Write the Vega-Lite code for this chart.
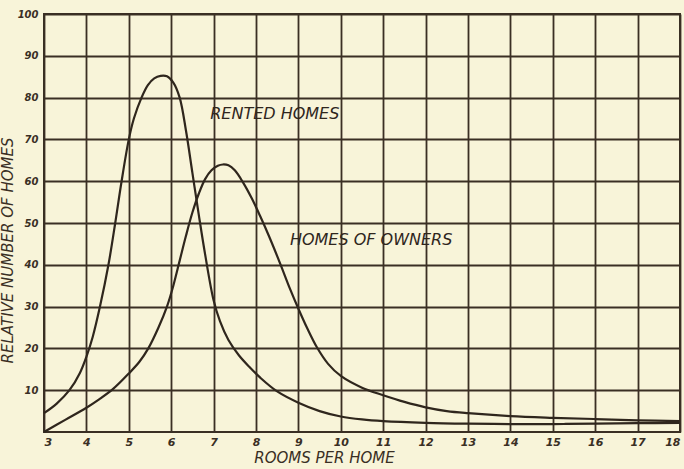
{
  "$schema": "https://vega.github.io/schema/vega-lite/v6.json",
  "width": 636,
  "height": 418,
  "autosize": "none",
  "padding": {"left": 44, "top": 14, "right": 4, "bottom": 37},
  "background": "#f8f4d9",
  "config": {
    "view": {"stroke": "#3a2f24", "strokeWidth": 2},
    "axis": {
      "gridColor": "#3a2f24",
      "gridWidth": 1.8,
      "gridOpacity": 1,
      "domain": false,
      "ticks": false,
      "labelFont": "DejaVu Sans",
      "labelFontStyle": "italic",
      "labelFontWeight": "bold",
      "labelColor": "#3a2f24",
      "labelFontSize": 11,
      "titleFont": "DejaVu Sans",
      "titleFontStyle": "italic",
      "titleFontWeight": "normal",
      "titleColor": "#3a2f24",
      "titleFontSize": 15
    }
  },
  "layer": [
    {
      "data": {
        "values": [
          {"series": "Rented Homes", "rooms": 3, "value": 4.5},
          {"series": "Rented Homes", "rooms": 3.3, "value": 6.8},
          {"series": "Rented Homes", "rooms": 3.6, "value": 10},
          {"series": "Rented Homes", "rooms": 3.85, "value": 14.2},
          {"series": "Rented Homes", "rooms": 4.0, "value": 18},
          {"series": "Rented Homes", "rooms": 4.15, "value": 22.8},
          {"series": "Rented Homes", "rooms": 4.32, "value": 30},
          {"series": "Rented Homes", "rooms": 4.52, "value": 40},
          {"series": "Rented Homes", "rooms": 4.68, "value": 50},
          {"series": "Rented Homes", "rooms": 4.83, "value": 60},
          {"series": "Rented Homes", "rooms": 5.0, "value": 70},
          {"series": "Rented Homes", "rooms": 5.12, "value": 75},
          {"series": "Rented Homes", "rooms": 5.3, "value": 80},
          {"series": "Rented Homes", "rooms": 5.45, "value": 83},
          {"series": "Rented Homes", "rooms": 5.6, "value": 84.6},
          {"series": "Rented Homes", "rooms": 5.75, "value": 85.2},
          {"series": "Rented Homes", "rooms": 5.9, "value": 85.1},
          {"series": "Rented Homes", "rooms": 6.05, "value": 83.6},
          {"series": "Rented Homes", "rooms": 6.2, "value": 80},
          {"series": "Rented Homes", "rooms": 6.35, "value": 72},
          {"series": "Rented Homes", "rooms": 6.5, "value": 62},
          {"series": "Rented Homes", "rooms": 6.65, "value": 52},
          {"series": "Rented Homes", "rooms": 6.8, "value": 42.5},
          {"series": "Rented Homes", "rooms": 7.0, "value": 31.5},
          {"series": "Rented Homes", "rooms": 7.15, "value": 26.5},
          {"series": "Rented Homes", "rooms": 7.35, "value": 22},
          {"series": "Rented Homes", "rooms": 7.6, "value": 18.3},
          {"series": "Rented Homes", "rooms": 7.86, "value": 15.4},
          {"series": "Rented Homes", "rooms": 8.1, "value": 13},
          {"series": "Rented Homes", "rooms": 8.5, "value": 9.7},
          {"series": "Rented Homes", "rooms": 9, "value": 7},
          {"series": "Rented Homes", "rooms": 9.5, "value": 5},
          {"series": "Rented Homes", "rooms": 10, "value": 3.7},
          {"series": "Rented Homes", "rooms": 10.5, "value": 3.0},
          {"series": "Rented Homes", "rooms": 11, "value": 2.6},
          {"series": "Rented Homes", "rooms": 12, "value": 2.2},
          {"series": "Rented Homes", "rooms": 13, "value": 2.0},
          {"series": "Rented Homes", "rooms": 14, "value": 1.9},
          {"series": "Rented Homes", "rooms": 15, "value": 1.9},
          {"series": "Rented Homes", "rooms": 16, "value": 2.0},
          {"series": "Rented Homes", "rooms": 17, "value": 2.1},
          {"series": "Rented Homes", "rooms": 18, "value": 2.2},
          {"series": "Homes of Owners", "rooms": 3, "value": 0},
          {"series": "Homes of Owners", "rooms": 3.5, "value": 2.9},
          {"series": "Homes of Owners", "rooms": 4, "value": 5.8},
          {"series": "Homes of Owners", "rooms": 4.3, "value": 7.8},
          {"series": "Homes of Owners", "rooms": 4.63, "value": 10.3},
          {"series": "Homes of Owners", "rooms": 5, "value": 14},
          {"series": "Homes of Owners", "rooms": 5.25, "value": 16.8},
          {"series": "Homes of Owners", "rooms": 5.46, "value": 20},
          {"series": "Homes of Owners", "rooms": 5.7, "value": 25},
          {"series": "Homes of Owners", "rooms": 5.9, "value": 30},
          {"series": "Homes of Owners", "rooms": 6.05, "value": 35},
          {"series": "Homes of Owners", "rooms": 6.2, "value": 41},
          {"series": "Homes of Owners", "rooms": 6.35, "value": 47},
          {"series": "Homes of Owners", "rooms": 6.5, "value": 52.5},
          {"series": "Homes of Owners", "rooms": 6.65, "value": 57},
          {"series": "Homes of Owners", "rooms": 6.8, "value": 60.5},
          {"series": "Homes of Owners", "rooms": 6.95, "value": 62.6},
          {"series": "Homes of Owners", "rooms": 7.1, "value": 63.7},
          {"series": "Homes of Owners", "rooms": 7.22, "value": 64},
          {"series": "Homes of Owners", "rooms": 7.35, "value": 63.8},
          {"series": "Homes of Owners", "rooms": 7.5, "value": 62.6},
          {"series": "Homes of Owners", "rooms": 7.7, "value": 59.6},
          {"series": "Homes of Owners", "rooms": 7.9, "value": 55.9},
          {"series": "Homes of Owners", "rooms": 8.1, "value": 51.6},
          {"series": "Homes of Owners", "rooms": 8.3, "value": 47},
          {"series": "Homes of Owners", "rooms": 8.57, "value": 40.3},
          {"series": "Homes of Owners", "rooms": 8.8, "value": 34.3},
          {"series": "Homes of Owners", "rooms": 9.0, "value": 29.5},
          {"series": "Homes of Owners", "rooms": 9.2, "value": 25},
          {"series": "Homes of Owners", "rooms": 9.44, "value": 20.2},
          {"series": "Homes of Owners", "rooms": 9.7, "value": 16.3},
          {"series": "Homes of Owners", "rooms": 10, "value": 13.4},
          {"series": "Homes of Owners", "rooms": 10.5, "value": 10.6},
          {"series": "Homes of Owners", "rooms": 11, "value": 8.8},
          {"series": "Homes of Owners", "rooms": 11.5, "value": 7.2},
          {"series": "Homes of Owners", "rooms": 12, "value": 5.9},
          {"series": "Homes of Owners", "rooms": 12.5, "value": 5.0},
          {"series": "Homes of Owners", "rooms": 13, "value": 4.5},
          {"series": "Homes of Owners", "rooms": 14, "value": 3.8},
          {"series": "Homes of Owners", "rooms": 15, "value": 3.4},
          {"series": "Homes of Owners", "rooms": 16, "value": 3.1},
          {"series": "Homes of Owners", "rooms": 17, "value": 2.8},
          {"series": "Homes of Owners", "rooms": 18, "value": 2.6}
        ]
      },
      "mark": {"type": "line", "interpolate": "catmull-rom", "color": "#2f261d", "strokeWidth": 2.2},
      "encoding": {
        "x": {
          "field": "rooms",
          "type": "quantitative",
          "scale": {"domain": [3, 18], "nice": false, "zero": false},
          "axis": {
            "values": [3,4,5,6,7,8,9,10,11,12,13,14,15,16,17,18],
            "title": "ROOMS PER HOME",
            "titlePadding": 3,
            "titleX": 280,
            "labelPadding": 4,
            "labelFlush": true
          }
        },
        "y": {
          "field": "value",
          "type": "quantitative",
          "scale": {"domain": [0, 100], "nice": false},
          "axis": {
            "values": [10,20,30,40,50,60,70,80,90,100],
            "title": "RELATIVE NUMBER OF HOMES",
            "titlePadding": 2,
            "titleY": 236,
            "labelPadding": 6,
            "labelFlush": false,
            "labelFontSize": 10
          }
        },
        "detail": {"field": "series"}
      }
    },
    {
      "data": {
        "values": [
          {"label": "RENTED HOMES", "rooms": 6.92, "value": 76},
          {"label": "HOMES OF OWNERS", "rooms": 8.8, "value": 46}
        ]
      },
      "mark": {
        "type": "text",
        "align": "left",
        "baseline": "middle",
        "font": "DejaVu Sans",
        "fontStyle": "italic",
        "fontSize": 16,
        "color": "#2f261d"
      },
      "encoding": {
        "x": {"field": "rooms", "type": "quantitative"},
        "y": {"field": "value", "type": "quantitative"},
        "text": {"field": "label"}
      }
    }
  ]
}
